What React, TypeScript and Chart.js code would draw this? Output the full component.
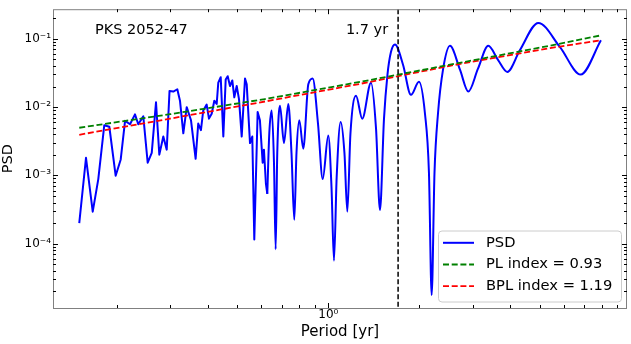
import React, { useEffect, useRef } from 'react';
import { Chart, registerables } from 'chart.js';

Chart.register(...registerables);

// ---- data ----
const psdPeriod = [
  0.1501, 0.158, 0.1663, 0.1735, 0.1816, 0.1887, 0.198, 0.2058, 0.2127, 0.2209,
  0.2294, 0.2352, 0.2444, 0.2527, 0.2606, 0.2692, 0.2761, 0.2846, 0.2921, 0.2984,
  0.3072, 0.3166, 0.3231, 0.3314, 0.3401, 0.3514, 0.364, 0.3713, 0.379, 0.3857,
  0.3959, 0.4029, 0.4113, 0.4196, 0.4273, 0.4325, 0.4406, 0.4494, 0.4576, 0.4646,
  0.4728, 0.4812, 0.4886, 0.4976, 0.5064, 0.5169, 0.5301, 0.537, 0.5506, 0.5603,
  0.5689, 0.5836, 0.5938, 0.6063, 0.6122, 0.6216, 0.6281,
  0.6377, 0.6495, 0.6609, 0.6694, 0.6776, 0.6918, 0.7131, 0.7369, 0.7551, 0.7714,
  0.7844, 0.8014, 0.826, 0.8582, 0.8874, 0.9239, 0.9576, 0.9992, 1.024, 1.0435,
  1.065, 1.098, 1.13, 1.155, 1.183, 1.234, 1.294, 1.383, 1.437, 1.481,
  1.527, 1.568, 1.61, 1.66, 1.765, 1.875, 1.993, 2.086, 2.15, 2.195,
  2.243, 2.303, 2.393, 2.523, 2.723, 2.901, 3.123, 3.378, 3.637, 3.903,
  4.299, 4.942, 5.831, 6.823, 7.963,
];
const psdValue = [
  2.0e-4, 1.81e-3, 2.94e-4, 8.82e-4, 5.43e-3, 5.15e-3, 9.87e-4, 1.71e-3, 6.28e-3, 5.61e-3,
  7.81e-3, 5.61e-3, 7.31e-3, 1.53e-3, 2.13e-3, 1.176e-2, 2.01e-3, 3.7e-3, 2.38e-3, 1.725e-2,
  1.69e-2, 1.824e-2, 1.24e-2, 4.13e-3, 9.97e-3, 6.4e-3, 1.75e-3, 5.74e-3, 4.6e-3, 8.91e-3,
  1.086e-2, 6.77e-3, 7.99e-3, 1.24e-2, 1.111e-2, 2.277e-2, 2.74e-2, 3.7e-3, 2.539e-2, 2.831e-2,
  2.034e-2, 2.456e-2, 1.387e-2, 2.034e-2, 1.31e-2, 3.7e-3, 2.624e-2, 2.153e-2, 2.97e-3, 3.7e-3,
  1.153e-4, 8.45e-3, 6.4e-3, 1.53e-3, 2.38e-3, 7.48e-4, 5.37e-4,
  4.13e-3, 8.91e-3, 1.53e-3, 8.28e-5, 2.13e-3, 1.05e-2, 2.97e-3, 1.111e-2, 2.13e-3, 2.23e-4,
  2.13e-3, 6.4e-3, 2.46e-3, 2.153e-2, 2.624e-2, 5.74e-3, 8.82e-4, 3.82e-3, 6.71e-4, 5.63e-5,
  9.33e-4, 6.07e-3, 2.13e-3, 2.94e-4, 4.13e-3, 1.462e-2, 6.77e-3, 2.277e-2, 4.87e-3, 3.1e-4,
  6.77e-3, 2.995e-2, 6.4e-2, 8.26e-2, 4.17e-2, 1.51e-2, 2.353e-2, 7.99e-3, 1.1e-3, 1.77e-5,
  1.1e-3, 7.99e-3, 3.531e-2, 7.88e-2, 3.531e-2, 1.69e-2, 3.65e-2, 7.88e-2, 4.91e-2, 3.27e-2,
  6.84e-2, 0.1708, 7.55e-2, 2.995e-2, 9.52e-2,
];
// index where the finely sampled (smooth) part of the periodogram starts
const smoothFrom = 56;

const plPeriod = [0.1501, 0.2995, 0.6171, 1.272, 2.523, 5.403, 7.963];
const plValue = [4.98e-3, 7.86e-3, 1.31e-2, 2.337e-2, 4.17e-2, 7.93e-2, 0.1122];
const bplPeriod = [0.1501, 0.2995, 0.6171, 1.272, 2.523, 5.403, 7.963];
const bplValue = [3.93e-3, 6.77e-3, 1.207e-2, 2.188e-2, 4.03e-2, 7.31e-2, 9.52e-2];

const peakPeriod = 1.7;
const peakLabel = '1.7 yr';
const sourceName = 'PKS 2052-47';
const sourceLabelPeriod = 0.1692;
const labelPsd = 0.116;

const legendLabels = ['PSD', 'PL index = 0.93', 'BPL index = 1.19'];
const xTickValues = [1];
const xTickLabels = ['10\u2070'];
const yTickValues = [1e-4, 1e-3, 1e-2, 1e-1];
const yTickLabels = ['10\u207B\u2074', '10\u207B\u00B3', '10\u207B\u00B2', '10\u207B\u00B9'];
const xMin = 0.1229;
const xMax = 9.71;
const yMin = 1.141e-5;
const yMax = 0.2713;

const FONT = '"DejaVu Sans", sans-serif';
const BLUE = '#0000ff';
const GREEN = '#008000';
const RED = '#ff0000';

function pts(xs: number[], ys: number[]) {
  return xs.map((x, i) => ({ x, y: ys[i] }));
}

const overlay = {
  id: 'overlay',
  afterDatasetsDraw(chart: any) {
    const { ctx, chartArea: a, scales } = chart;
    const xs = scales.x;
    const ys = scales.y;
    ctx.save();

    // vertical marker
    const px = xs.getPixelForValue(peakPeriod);
    ctx.beginPath();
    ctx.setLineDash([5, 2.5]);
    ctx.lineWidth = 1.5;
    ctx.strokeStyle = '#000';
    ctx.moveTo(px, a.top);
    ctx.lineTo(px, a.bottom);
    ctx.stroke();
    ctx.setLineDash([]);

    // annotations
    ctx.font = `14.5px ${FONT}`;
    ctx.fillStyle = '#000';
    ctx.textBaseline = 'alphabetic';
    ctx.textAlign = 'left';
    const ty = ys.getPixelForValue(labelPsd);
    ctx.fillText(sourceName, xs.getPixelForValue(sourceLabelPeriod), ty);
    ctx.textAlign = 'right';
    ctx.fillText(peakLabel, px - 10, ty);

    // frame
    ctx.lineWidth = 1;
    ctx.strokeStyle = '#808080';
    ctx.strokeRect(a.left + 0.5, a.top + 0.5, a.right - a.left - 1, a.bottom - a.top);

    // inward ticks
    ctx.strokeStyle = '#000';
    ctx.beginPath();
    const decades = (lo: number, hi: number) => {
      const out: { v: number; major: boolean }[] = [];
      for (let e = Math.floor(Math.log10(lo)); e <= Math.ceil(Math.log10(hi)); e++) {
        for (let m = 1; m <= 9; m++) {
          const v = m * Math.pow(10, e);
          if (v >= lo && v <= hi) out.push({ v, major: m === 1 });
        }
      }
      return out;
    };
    for (const t of decades(xMin, xMax)) {
      const p = Math.round(xs.getPixelForValue(t.v)) + 0.5;
      const len = t.major ? 5 : 3;
      ctx.moveTo(p, a.bottom);
      ctx.lineTo(p, a.bottom - len);
      ctx.moveTo(p, a.top);
      ctx.lineTo(p, a.top + len);
    }
    for (const t of decades(yMin, yMax)) {
      const p = Math.round(ys.getPixelForValue(t.v)) + 0.5;
      const len = t.major ? 5 : 3;
      ctx.moveTo(a.left, p);
      ctx.lineTo(a.left + len, p);
      ctx.moveTo(a.right, p);
      ctx.lineTo(a.right - len, p);
    }
    ctx.stroke();

    // legend
    const bw = 183;
    const bh = 71;
    const bx = a.right - 6 - bw;
    const by = a.bottom - 6.5 - bh;
    ctx.beginPath();
    ctx.roundRect(bx + 0.5, by + 0.5, bw, bh, 3.5);
    ctx.fillStyle = 'rgba(255,255,255,0.85)';
    ctx.fill();
    ctx.strokeStyle = '#cccccc';
    ctx.lineWidth = 1;
    ctx.stroke();
    const colors = [BLUE, GREEN, RED];
    const rows = [12.3, 34, 55.7];
    ctx.font = `14.7px ${FONT}`;
    ctx.textAlign = 'left';
    ctx.textBaseline = 'middle';
    rows.forEach((r, i) => {
      const yy = by + r;
      ctx.beginPath();
      ctx.setLineDash(i === 0 ? [] : [6, 2.7]);
      ctx.lineWidth = i === 0 ? 2 : 1.8;
      ctx.strokeStyle = colors[i];
      ctx.moveTo(bx + 5, yy);
      ctx.lineTo(bx + 36, yy);
      ctx.stroke();
      ctx.setLineDash([]);
      ctx.fillStyle = '#000';
      ctx.fillText(legendLabels[i], bx + 48, yy);
    });
    ctx.restore();
  },
};

export default function App() {
  const ref = useRef<HTMLCanvasElement | null>(null);
  useEffect(() => {
    if (!ref.current) return;
    Chart.defaults.font.family = FONT;
    const chart = new Chart(ref.current, {
      type: 'line',
      data: {
        datasets: [
          {
            label: 'PL',
            data: pts(plPeriod, plValue),
            borderColor: GREEN,
            borderWidth: 1.8,
            borderDash: [6, 2.7],
            pointRadius: 0,
            tension: 0,
            order: 0,
          },
          {
            label: 'BPL',
            data: pts(bplPeriod, bplValue),
            borderColor: RED,
            borderWidth: 1.8,
            borderDash: [6, 2.7],
            pointRadius: 0,
            tension: 0,
            order: 0,
          },
          {
            label: 'PSD',
            data: pts(psdPeriod.slice(0, smoothFrom + 1), psdValue.slice(0, smoothFrom + 1)),
            borderColor: BLUE,
            borderWidth: 2,
            pointRadius: 0,
            tension: 0,
            borderJoinStyle: 'round',
            order: 1,
          },
          {
            label: 'PSD smooth',
            data: pts(psdPeriod.slice(smoothFrom), psdValue.slice(smoothFrom)),
            borderColor: BLUE,
            borderWidth: 2,
            pointRadius: 0,
            cubicInterpolationMode: 'monotone',
            borderJoinStyle: 'round',
            order: 1,
          },
        ],
      },
      options: {
        animation: false,
        responsive: false,
        devicePixelRatio: 1,
        layout: { padding: { top: 3, right: 4, left: 0, bottom: 0 } },
        plugins: { legend: { display: false }, tooltip: { enabled: false } },
        scales: {
          x: {
            type: 'logarithmic',
            min: xMin,
            max: xMax,
            grid: { display: false, drawTicks: false },
            border: { display: false },
            afterBuildTicks: (s: any) => {
              s.ticks = xTickValues.map((v) => ({ value: v }));
            },
            afterFit: (s: any) => {
              s.height = 36;
            },
            ticks: {
              autoSkip: false,
              maxRotation: 0,
              padding: 0,
              color: '#000',
              font: { size: 12, family: FONT },
              callback: (_v: any, i: number) => xTickLabels[i],
            },
            title: {
              display: true,
              text: 'Period [yr]',
              color: '#000',
              font: { size: 15, family: FONT, lineHeight: 1 },
              padding: { top: 0, bottom: 4.2 },
            },
          },
          y: {
            type: 'logarithmic',
            min: yMin,
            max: yMax,
            grid: { display: false, drawTicks: false },
            border: { display: false },
            afterBuildTicks: (s: any) => {
              s.ticks = yTickValues.map((v) => ({ value: v }));
            },
            afterFit: (s: any) => {
              s.width = 53;
            },
            ticks: {
              autoSkip: false,
              padding: 2,
              color: '#000',
              font: { size: 12, family: FONT },
              callback: (_v: any, i: number) => yTickLabels[i],
            },
            title: {
              display: true,
              text: 'PSD',
              color: '#000',
              font: { size: 14.5, family: FONT, lineHeight: 1 },
              padding: { top: 1, bottom: 0 },
            },
          },
        },
      },
      plugins: [overlay],
    } as any);
    return () => chart.destroy();
  }, []);
  return (
    <div style={{ position: 'fixed', left: 0, top: 0, width: 631, height: 344, background: '#fff' }}>
      <canvas ref={ref} width={631} height={344} style={{ display: 'block' }} />
    </div>
  );
}
